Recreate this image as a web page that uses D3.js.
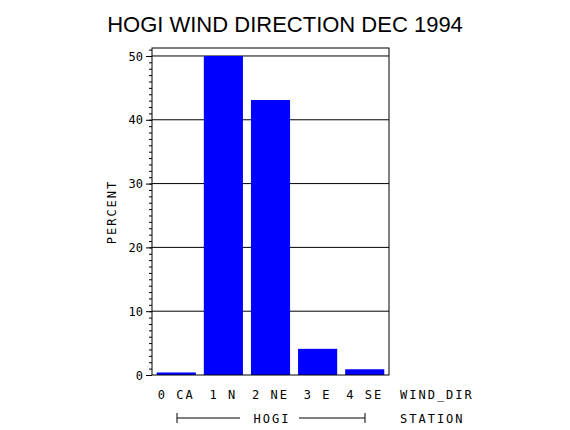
<!DOCTYPE html><html><head><script src="https://cdn.jsdelivr.net/npm/d3@7"></script>
<style>body{margin:0;background:#fff}text{font-family:"DejaVu Sans Mono",monospace}</style></head><body>
<svg id="c" width="570" height="430"></svg>
<script>
const categories=["0 CA","1 N","2 NE","3 E","4 SE"];
const values=[0.4,50,43.1,4.1,0.9];
const yTicks=[0,10,20,30,40,50];
const svg=d3.select("#c");
const L=152,R=389,T=48,B=375;
const x=d3.scaleBand().domain(categories).range([L,R]).paddingInner(0.17).paddingOuter(0.1);
const y=d3.scaleLinear().domain([0,51.25]).range([B,T]);
svg.append("text").attr("x",285).attr("y",32).attr("text-anchor","middle").style("font-family","Liberation Sans, Arial").style("font-size","22px").text("HOGI WIND DIRECTION DEC 1994");
svg.selectAll(".g").data(yTicks.slice(1)).enter().append("line").attr("x1",L).attr("x2",R).attr("y1",d=>y(d)).attr("y2",d=>y(d)).attr("stroke","#000");
svg.selectAll(".b").data(values).enter().append("rect").attr("x",(d,i)=>x(categories[i])).attr("width",x.bandwidth()).attr("y",d=>y(d)).attr("height",d=>B-y(d)).attr("fill","#0000ff");
svg.append("rect").attr("x",L).attr("y",T).attr("width",R-L).attr("height",B-T).attr("fill","none").attr("stroke","#000");
const ax=svg.append("g").attr("transform",`translate(${L},0)`).call(d3.axisLeft(y).tickValues(d3.range(0,52,1)).tickSize(3).tickFormat(""));
ax.select(".domain").remove();
const ax2=svg.append("g").attr("transform",`translate(${L},0)`).call(d3.axisLeft(y).tickValues(yTicks).tickSize(6).tickFormat(d3.format("d")));
ax2.select(".domain").remove();
ax2.selectAll("text").style("font-size","12px").attr("dy","0.35em");
svg.append("text").attr("transform","translate(116,212) rotate(-90)").attr("text-anchor","middle").style("font-size","12px").attr("letter-spacing","2px").text("PERCENT");
svg.selectAll(".xl").data(categories).enter().append("text").attr("x",d=>x(d)+x.bandwidth()/2).attr("y",399).attr("text-anchor","middle").style("font-size","12px").attr("letter-spacing","2px").text(d=>d);
svg.append("text").attr("x",400).attr("y",399).style("font-size","12px").attr("letter-spacing","2px").text("WIND_DIR");
svg.append("text").attr("x",400).attr("y",423).style("font-size","12px").attr("letter-spacing","2px").text("STATION");
svg.append("text").attr("x",272).attr("y",423).attr("text-anchor","middle").style("font-size","12px").attr("letter-spacing","2px").text("HOGI");
const s=svg.append("g").attr("stroke","#000");
s.append("line").attr("x1",177).attr("x2",240).attr("y1",418).attr("y2",418);
s.append("line").attr("x1",299).attr("x2",365).attr("y1",418).attr("y2",418);
s.append("line").attr("x1",177).attr("x2",177).attr("y1",413).attr("y2",423);
s.append("line").attr("x1",365).attr("x2",365).attr("y1",413).attr("y2",423);
</script></body></html>
